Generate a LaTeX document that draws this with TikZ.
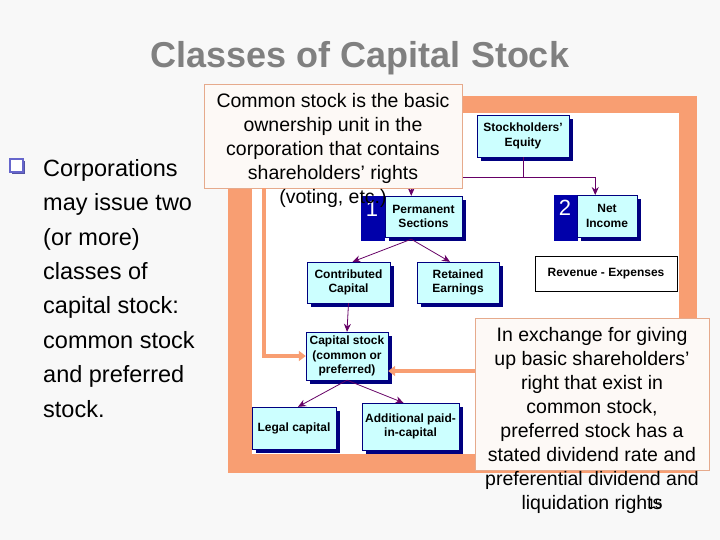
\documentclass[tikz,border=0pt]{standalone}
\usepackage{fontspec}
\setmainfont{Liberation Sans}
\usepackage{tikz}
\usetikzlibrary{arrows.meta,calc,shadows}

\definecolor{slidebg}{RGB}{248,248,248}
\definecolor{frameorange}{RGB}{248,158,114}
\definecolor{boxcyan}{RGB}{204,255,255}
\definecolor{boxnavy}{RGB}{0,0,128}
\definecolor{numblue}{RGB}{0,0,170}
\definecolor{linkpurple}{RGB}{102,0,102}
\definecolor{titlegray}{RGB}{128,128,128}
\definecolor{notefill}{RGB}{253,249,246}
\definecolor{noteline}{RGB}{230,170,140}
\definecolor{bulletblue}{RGB}{102,102,204}

\begin{document}
\begin{tikzpicture}[x=1pt, y=-1pt, >={Stealth[length=8pt,width=7pt]},
	box/.style={draw=boxnavy, fill=boxcyan, align=center, inner sep=0pt,
		font=\fontsize{12}{14.5}\selectfont\bfseries,
		general shadow={fill=boxnavy, shadow xshift=4pt, shadow yshift=-4pt}},
	numbox/.style={fill=numblue, inner sep=0pt, minimum width=24pt, minimum height=45pt},
	numtext/.style={text=white, font=\fontsize{22}{22}\selectfont},
	link/.style={draw=linkpurple, line width=0.8pt},
	callarrow/.style={draw=frameorange, line width=3.5pt, -{Triangle[length=7pt,width=10pt]}},
	note/.style={draw=noteline, fill=notefill, inner sep=0pt},
	notetext/.style={align=center, inner sep=0pt, font=\fontsize{19.5}{24}\selectfont}]
	\useasboundingbox (0,0) rectangle (720,540);
	% slide
	\fill[slidebg] (0,0) rectangle (720,540);
	\node (title) at (360,68) [anchor=base, text=titlegray, font=\fontsize{36}{36}\selectfont\bfseries] {Classes of Capital Stock};
	\node (bsq) at (16,166) [draw=bulletblue, fill=white, line width=2pt, minimum size=13pt, inner sep=0pt,
		general shadow={fill=bulletblue!80!black, shadow xshift=2pt, shadow yshift=-2pt}] {};
	\node (bullet) at (43,159) [anchor=north west, align=left, inner sep=0pt, font=\fontsize{23.5}{34.4}\selectfont]
		{Corporations\\may issue two\\(or more)\\classes of\\capital stock:\\common stock\\and preferred\\stock.};
	% frame
	\fill[frameorange] (228,96) rectangle (697,473);
	\fill[white] (252,113) rectangle (679,454);
	% boxes
	\node (se) at (523,136) [box, minimum width=92pt, minimum height=42pt] {Stockholders'\\Equity};
	\node (num1) at (372.5,218.5) [numbox] {};
	\node (perm) at (423.5,216.5) [box, minimum width=77pt, minimum height=41pt] {Permanent\\Sections};
	\node (one) at (372,209) [numtext] {1};
	\node (num2) at (565.5,218) [numbox] {};
	\node (net) at (607,216) [box, minimum width=60pt, minimum height=42pt] {Net\\Income};
	\node (two) at (565,208) [numtext] {2};
	\node (rev) at (606,273.5) [draw=black, fill=white, minimum width=142pt, minimum height=35pt,
		font=\fontsize{12}{14}\selectfont\bfseries] {Revenue - Expenses};
	\node (cc) at (348.5,282.5) [box, minimum width=83pt, minimum height=41pt] {Contributed\\Capital};
	\node (rea) at (458,282.5) [box, minimum width=82pt, minimum height=41pt] {Retained\\Earnings};
	\node (cs) at (347,356) [box, minimum width=82pt, minimum height=48pt] {Capital stock\\(common or\\preferred)};
	\node (lc) at (294,428) [box, minimum width=84pt, minimum height=42pt] {Legal capital};
	\node (ap) at (410.5,426.5) [box, minimum width=97pt, minimum height=47pt] {Additional paid-\\in-capital};
	% links
	\coordinate (busy) at (0,177);
	\coordinate (bus) at (se.south |- busy);
	\coordinate (permtop) at ($(num1.north west)!.5!(perm.north east)$);
	\coordinate (nettop) at ($(num2.north west)!.5!(net.north east)$);
	\coordinate (permbot) at ($(num1.south west)!.5!(perm.south east)$);
	\draw[link] (se.south) -- (bus);
	\draw[link,->] (bus) -| (permtop);
	\draw[link,->] (bus) -| (nettop);
	\draw[link,->] (permbot) -- ($(cc.north)+(4,0)$);
	\draw[link,->] (permbot) -- ($(rea.north)+(-8,0)$);
	\draw[link,->] (cc.south) -- (cs.north);
	\draw[link,->] (cs.south) -- ($(lc.north)+(4,0)$);
	\draw[link,->] (cs.south) -- ($(ap.north)+(-7,0)$);
	% notes
	\node (callA) at (333,136) [note, minimum width=258pt, minimum height=104pt] {};
	\node (callAtext) at (333,93) [notetext, anchor=north]
		{Common stock is the basic\\ownership unit in the\\corporation that contains\\shareholders’ rights\\(voting, etc.)};
	\node (callB) at (592,394) [note, minimum width=234pt, minimum height=152pt] {};
	\coordinate (cby) at (0,371);
	\draw[callarrow] ($(callA.south west)+(60,0)$) |- (cs.west);
	\draw[callarrow] (callB.west |- cby) -- (cs.east |- cby);
	\node (callBtext) at (592,327) [notetext, anchor=north]
		{In exchange for giving\\up basic shareholders’\\right that exist in\\common stock,\\preferred stock has a\\stated dividend rate and\\preferential dividend and\\liquidation rights};
	\node (page) at (655,508) [anchor=base, font=\fontsize{13}{13}\selectfont] {15};
\end{tikzpicture}
\end{document}
